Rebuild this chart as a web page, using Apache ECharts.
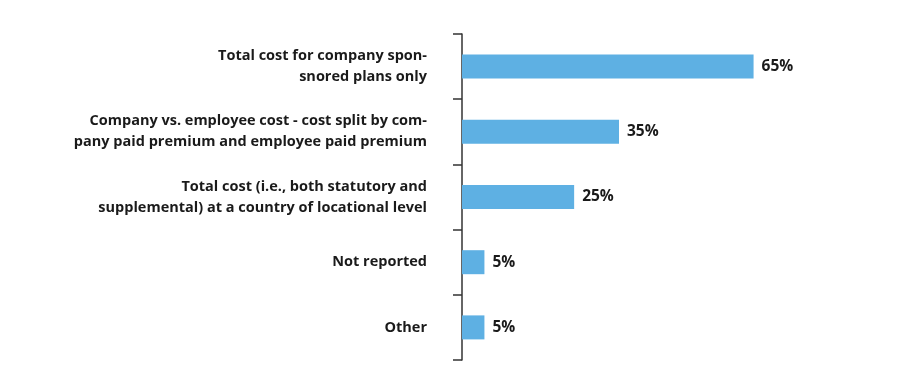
<!DOCTYPE html>
<html>
<head>
<meta charset="utf-8">
<script src="https://cdn.jsdelivr.net/npm/echarts@6/dist/echarts.min.js"></script>
<style>
  html, body { margin: 0; padding: 0; background: #fff; }
  #chart { width: 900px; height: 375px; }
</style>
</head>
<body>
<div id="chart"></div>
<script>
// categories, top to bottom
var categories = [
    'Total cost for company spon-\nsnored plans only',
    'Company vs. employee cost - cost split by com-\npany paid premium and employee paid premium',
    'Total cost (i.e., both statutory and\nsupplemental) at a country of locational level',
    'Not reported',
    'Other'
];
var values = [65, 35, 25, 5, 5];

var myChart = echarts.init(document.getElementById('chart'));
var option = {
    animation: false,
    grid: {
        left: 462,
        right: 124,
        top: 34,
        bottom: 15
    },
    xAxis: {
        type: 'value',
        min: 0,
        max: 70,
        show: false
    },
    yAxis: {
        type: 'category',
        data: categories,
        inverse: true,
        axisLine: {
            show: true,
            lineStyle: { color: '#333', width: 1.5 }
        },
        axisTick: {
            show: true,
            length: 9,
            lineStyle: { color: '#333', width: 1.5 }
        },
        axisLabel: {
            margin: 35,
            color: '#1a1a1a',
            fontFamily: 'Open Sans',
            fontWeight: 'bold',
            fontSize: 14.5,
            lineHeight: 21,
            align: 'right'
        }
    },
    series: [{
        type: 'bar',
        data: values,
        barWidth: 24,
        itemStyle: { color: '#5eb0e3' },
        label: {
            show: true,
            position: 'right',
            distance: 8,
            formatter: '{c}%',
            color: '#1a1a1a',
            fontFamily: 'Open Sans',
            fontWeight: 'bold',
            fontSize: 15.5
        }
    }]
};
myChart.setOption(option);
</script>
</body>
</html>
